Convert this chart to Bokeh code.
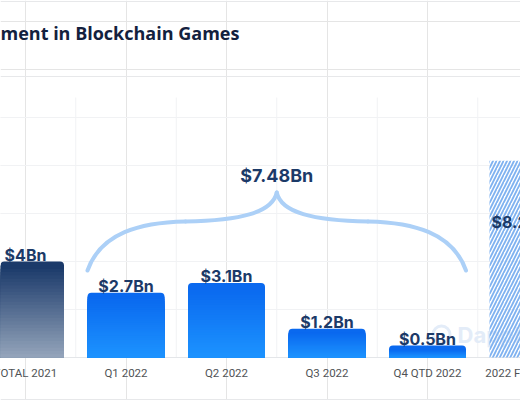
from bokeh.plotting import figure
from bokeh.models import Range1d, Grid, FixedTicker
from bokeh.embed import file_html
from bokeh.resources import INLINE
from bokeh.core.properties import value

# ---------------- data ----------------
categories = ["TOTAL 2021", "Q1 2022", "Q2 2022", "Q3 2022", "Q4 QTD 2022", "2022 FORECAST"]
investment_bn = [4.0, 2.7, 3.1, 1.2, 0.5, 8.2]
bar_labels = ["$4Bn", "$2.7Bn", "$3.1Bn", "$1.2Bn", "$0.5Bn", "$8.2Bn"]
bar_kind = ["total", "quarter", "quarter", "quarter", "quarter", "forecast"]
bracket_label = "$7.48Bn"
title_text = "ment in Blockchain Games"
grid_values = [0, 2, 4, 6, 8, 10]

# ---------------- geometry / style ----------------
W, H = 520, 400
BASE_PX = 357          # pixel row of the zero line
PX_PER_BN = 24.0
PX_PER_CAT = 100.5
FIRST_CENTER_PX = 25
BAR_W = 77 / PX_PER_CAT


def y_px(py):
    return (BASE_PX - py) / PX_PER_BN


def x_px(px):
    return (px - FIRST_CENTER_PX) / PX_PER_CAT


def mix(c1, c2, t):
    a = [int(c1[i:i + 2], 16) for i in (1, 3, 5)]
    b = [int(c2[i:i + 2], 16) for i in (1, 3, 5)]
    return "#%02x%02x%02x" % tuple(round(a[k] + (b[k] - a[k]) * t) for k in range(3))


GRAD = {"total": ("#97a7bd", "#1b3a6a"), "quarter": ("#1d94ff", "#0a69ef")}
NAVY = "#1c3a68"
GRID_C = "#f1f2f4"

p = figure(width=W, height=H, x_range=Range1d(x_px(0), x_px(W)),
           y_range=Range1d(y_px(H), y_px(0)), output_backend="svg",
           toolbar_location=None, x_axis_location=None, y_axis_location=None,
           title=None, min_border=0, outline_line_color=None,
           background_fill_color="white", border_fill_color="white")
p.min_border_left = p.min_border_right = p.min_border_top = p.min_border_bottom = 0

# horizontal grid
p.add_layout(Grid(dimension=1, ticker=FixedTicker(ticks=grid_values[1:]),
                  grid_line_color=GRID_C, grid_line_width=1))
# vertical separators between categories
n = len(categories)
sep_x = [i + 0.5 for i in range(n - 1)]
p.segment(x0=sep_x, y0=[0] * len(sep_x), x1=sep_x, y1=[y_px(97)] * len(sep_x),
          line_color=GRID_C, line_width=1)

# card lines (top, below title, bottom) and baseline
p.hspan(y=[y_px(1), y_px(76), y_px(399)], line_color="#e7e8ea", line_width=1)
p.hspan(y=[0], line_color="#e4e6e9", line_width=1)

# watermark
p.scatter(x=[x_px(441)], y=[y_px(334)], size=17, marker="circle", fill_color=None,
          line_color="#e3ecf8", line_width=3)
p.text(x=[x_px(457)], y=[y_px(334)], text=["DappRadar"], text_align="left",
       text_baseline="middle", text_font=value("Inter"), text_font_style="bold",
       text_font_size="22px", text_color="#e3ecf8")

# gradient bars
r_top = 4 / PX_PER_BN
N = 28
for kind in ("total", "quarter"):
    idx = [i for i, k in enumerate(bar_kind) if k == kind]
    bottom_c, top_c = GRAD[kind]
    p.vbar(x=idx, top=[investment_bn[i] for i in idx], bottom=0, width=BAR_W,
           fill_color=top_c, line_color=None, border_radius=(4, 4, 0, 0))
    L, R, T, C = [], [], [], []
    for i in idx:
        v = investment_bn[i] - r_top
        for k in range(N, 0, -1):
            L.append(i - BAR_W / 2)
            R.append(i + BAR_W / 2)
            T.append(v * k / N)
            C.append(mix(bottom_c, top_c, k / N))
    p.quad(left=L, right=R, bottom=0, top=T, fill_color=C, line_color=None)

# hatched forecast bar
fidx = [i for i, k in enumerate(bar_kind) if k == "forecast"]
p.vbar(x=fidx, top=[investment_bn[i] for i in fidx], bottom=0, width=BAR_W,
       fill_color="white", fill_alpha=0.0, line_color=None, hatch_pattern="/",
       hatch_color="#7fb2f0", hatch_weight=1.8, hatch_scale=7)

# value labels
qidx = [i for i, k in enumerate(bar_kind) if k != "forecast"]
p.text(x=qidx, y=[investment_bn[i] for i in qidx], text=[bar_labels[i] for i in qidx],
       text_align="center", text_baseline="alphabetic", y_offset=-7,
       text_font=value("Inter"), text_font_style="bold", text_font_size="16px",
       text_color=NAVY)
p.text(x=[i - BAR_W / 2 for i in fidx], y=[y_px(221)] * len(fidx),
       text=[bar_labels[i] for i in fidx], x_offset=2, text_align="left",
       text_baseline="middle", text_font=value("Inter"), text_font_style="bold",
       text_font_size="16px", text_color=NAVY)

# brace over the quarters
xl = 1 - BAR_W / 2
xr = 4 + BAR_W / 2
xm = (xl + xr) / 2
h = xm - xl


def bx(f, side):
    return xm - h + f * h if side < 0 else xm + h - f * h


X0, Y0, X1, Y1, CX0, CY0, CX1, CY1 = [], [], [], [], [], [], [], []
for s in (-1, 1):
    X0 += [bx(0, s), bx(0.518, s)]
    Y0 += [y_px(270), y_px(221)]
    X1 += [bx(0.518, s), xm]
    Y1 += [y_px(221), y_px(192)]
    CX0 += [bx(0.07, s), bx(0.81, s)]
    CY0 += [y_px(232), y_px(220)]
    CX1 += [bx(0.28, s), bx(0.977, s)]
    CY1 += [y_px(222), y_px(212)]
p.bezier(x0=X0, y0=Y0, x1=X1, y1=Y1, cx0=CX0, cy0=CY0, cx1=CX1, cy1=CY1,
         line_color="#acd0f7", line_width=4, line_cap="round")
p.text(x=[xm], y=[y_px(175)], text=[bracket_label], text_align="center",
       text_baseline="middle", text_font=value("Inter"), text_font_style="bold",
       text_font_size="18px", text_color=NAVY)

# category labels
p.text(x=list(range(n)), y=[y_px(372)] * n, text=categories, text_align="center",
       text_baseline="middle", text_font=value("Roboto"), text_font_size="11.5px",
       text_color="#505356")

# title
p.text(x=[x_px(0)], y=[y_px(32)], text=[title_text], text_align="left",
       text_baseline="middle", text_font=value("Open Sans"), text_font_style="bold",
       text_font_size="18px", text_color="#13213e")

html = file_html(p, INLINE)
html = html.replace("<head>", "<head><style>html,body{margin:0;padding:0;overflow:hidden}</style>", 1)
open("out.html", "w").write(html)
